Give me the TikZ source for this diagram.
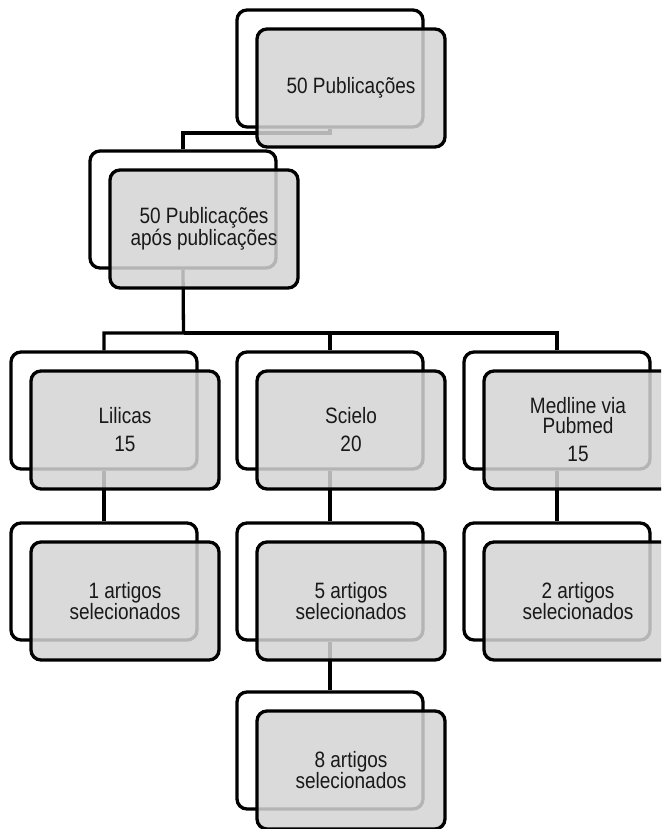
\documentclass[tikz,border=0pt]{standalone}
\usepackage{fontspec}
\setmainfont{Liberation Sans}
\tikzset{
  backbox/.style={draw=black, line width=3.3pt, rounded corners=10pt, fill=white,
    minimum width=186pt, minimum height=117pt, inner sep=0pt},
  frontbox/.style={draw=black, line width=3.3pt, rounded corners=10pt, fill=black!17,
    fill opacity=0.85, draw opacity=1, text opacity=1,
    minimum width=188pt, minimum height=118pt, inner sep=0pt},
  lbl/.style={align=center, font=\fontsize{19}{17.1}\selectfont, text=black!90,
    yscale=1.17, inner sep=0pt},
  conn/.style={draw=black, line width=3.3pt},
}
\newcommand{\backpart}[3]{\node[backbox] (b#1) at (#2+93, -#3-58.5) {};}
\newcommand{\frontpart}[4]{%
  \node[frontbox] (f#1) at (#2+114, -#3-78) {};
  \node[lbl] (t#1) at (f#1.center) {#4};}
\begin{document}
\begin{tikzpicture}[x=1pt,y=1pt]
\useasboundingbox (0,0) rectangle (661,-829);
\clip (0,0) rectangle (661,-829);
% back boxes
\backpart{A}{237}{10}
\backpart{B}{90}{151}
\backpart{C}{11}{352}
\backpart{D}{237}{352}
\backpart{E}{464}{352}
\backpart{F}{11}{523}
\backpart{G}{237}{523}
\backpart{H}{464}{523}
\backpart{I}{237}{692}
% connectors
\coordinate (j1) at (330,-133);
\coordinate (j2) at (183.5,-333);
\draw[conn] (bA.south) -- (j1) -| (bB.north);
\draw[conn] (bB.south) -- (j2) -| (bC.north);
\draw[conn] (j2) -| (bD.north);
\draw[conn] (j2) -| (bE.north);
\draw[conn] (bC.south) -- (bF.north);
\draw[conn] (bD.south) -- (bG.north);
\draw[conn] (bE.south) -- (bH.north);
\draw[conn] (bG.south) -- (bI.north);
% front boxes
\frontpart{A}{237}{10}{50 Publicações}
\frontpart{B}{90}{151}{50 Publicações\\após publicações}
\frontpart{C}{11}{352}{Lilicas\\[6.8pt]15}
\frontpart{D}{237}{352}{Scielo\\[6.8pt]20}
\frontpart{E}{464}{352}{Medline via\\Pubmed\\[6.8pt]15}
\frontpart{F}{11}{523}{1 artigos\\selecionados}
\frontpart{G}{237}{523}{5 artigos\\selecionados}
\frontpart{H}{464}{523}{2 artigos\\selecionados}
\frontpart{I}{237}{692}{8 artigos\\selecionados}
\end{tikzpicture}
\end{document}
